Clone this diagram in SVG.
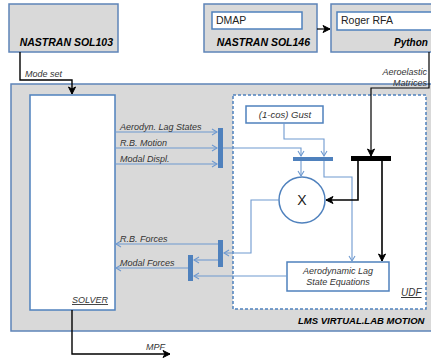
<svg xmlns="http://www.w3.org/2000/svg" width="431" height="358" viewBox="0 0 431 358">
<defs>
<style>
.box{fill:#d9d9d9;stroke:#5e84b8;stroke-width:1.5}
.wbox{fill:#fff;stroke:#4f81bd;stroke-width:1.5}
.dash{fill:#fff;stroke:#4f81bd;stroke-width:1.5;stroke-dasharray:3,2}
.bl{fill:none;stroke:#6f9ad0;stroke-width:1.1}
.bk{fill:none;stroke:#000;stroke-width:1.6}
.bar{fill:#4f81bd}
.kbar{fill:#000}
.t{font-family:"Liberation Sans",Arial,sans-serif;font-style:italic;font-size:9px;fill:#333}
.h{font-family:"Liberation Sans",Arial,sans-serif;font-style:italic;font-weight:bold;font-size:10.5px;fill:#000}
.n{font-family:"Liberation Sans",Arial,sans-serif;font-size:10.5px;fill:#222}
</style>
<marker id="ab" markerWidth="8" markerHeight="8" refX="6" refY="4" orient="auto" markerUnits="userSpaceOnUse">
<path d="M1,1 L6,4 L1,7" fill="none" stroke="#6f9ad0" stroke-width="1.1"/>
</marker>
<marker id="ak" markerWidth="10" markerHeight="10" refX="8" refY="5" orient="auto" markerUnits="userSpaceOnUse">
<path d="M1,1.5 L8,5 L1,8.5 L3,5 Z" fill="#000" stroke="#000" stroke-width="1"/>
</marker>
</defs>

<g id="sol103">
<rect class="box" x="9" y="4" width="109" height="48"/>
<text class="h" x="113" y="46" text-anchor="end">NASTRAN SOL103</text>
</g>
<g id="sol146">
<rect class="box" x="204" y="4" width="113" height="48"/>
<rect class="wbox" x="212" y="12" width="90" height="17"/>
<text class="n" x="216" y="24">DMAP</text>
<text class="h" x="310" y="46" text-anchor="end">NASTRAN SOL146</text>
</g>
<g id="python">
<rect class="box" x="331" y="4" width="120" height="48"/>
<rect class="wbox" x="337" y="12" width="110" height="18"/>
<text class="n" x="341" y="24">Roger RFA</text>
<text class="h" x="394" y="46" style="font-size:10px">Python</text>
</g>
<g id="lms">
<rect class="box" x="11" y="84" width="440" height="247"/>
<text class="h" x="298" y="324" style="font-size:9.5px">LMS VIRTUAL.LAB MOTION</text>
</g>
<g id="udf">
<rect class="dash" x="233" y="95" width="193" height="214"/>
<text class="t" x="401" y="296" text-decoration="underline" style="font-size:10px">UDF</text>
</g>
<g id="solver">
<rect class="wbox" x="30" y="95" width="85" height="215"/>
<text class="t" x="72" y="303" text-decoration="underline">SOLVER</text>
</g>
<g id="gust">
<rect class="wbox" x="246" y="106" width="77" height="17"/>
<text class="t" x="285" y="118" text-anchor="middle" style="font-size:9.5px">(1-cos) Gust</text>
</g>
<g id="multiply">
<circle cx="302" cy="200" r="23" fill="#fff" stroke="#4f81bd" stroke-width="1.5"/>
<text class="n" x="302" y="205" text-anchor="middle" style="font-size:14px">X</text>
</g>
<g id="aerolag">
<rect class="wbox" x="287" y="262" width="102" height="29"/>
<text class="t" x="338" y="274" text-anchor="middle">Aerodynamic Lag</text>
<text class="t" x="338" y="285" text-anchor="middle">State Equations</text>
</g>
<g id="bars">
<rect class="bar" x="218" y="128" width="5" height="40"/>
<rect class="bar" x="293" y="157" width="40" height="4"/>
<rect class="kbar" x="351" y="156" width="40" height="5"/>
<rect class="bar" x="218" y="240" width="5" height="27"/>
<rect class="bar" x="188" y="255" width="5" height="26"/>
</g>

<g id="connectors">
<path class="bk" d="M20,52 V80 H72 V94" marker-end="url(#ak)" style="stroke-width:1.4"/>
<path class="bk" d="M317,29 H330" marker-end="url(#ak)" style="stroke-width:1.2"/>
<path class="bk" d="M429,52 V88 H371 V156" marker-end="url(#ak)" style="stroke-width:1.2"/>
<path class="bk" d="M72,310 V354 H170" marker-end="url(#ak)" style="stroke-width:1.4"/>
<path class="bl" d="M115,132 H217" marker-end="url(#ab)"/>
<path class="bl" d="M115,148 H217" marker-end="url(#ab)"/>
<path class="bl" d="M115,164 H217" marker-end="url(#ab)"/>
<path class="bl" d="M223,148 H301 V156" marker-end="url(#ab)"/>
<path class="bl" d="M284,123 V139 H324 V156" marker-end="url(#ab)"/>
<path class="bl" d="M301,161 V176" marker-end="url(#ab)"/>
<path class="bl" d="M324,161 V177 H352 V261" marker-end="url(#ab)"/>
<path class="bk" d="M358,161 V200 H326" marker-end="url(#ak)"/>
<path class="bk" d="M382,161 V261" marker-end="url(#ak)"/>
<path class="bl" d="M279,200 H251 V253 H224" marker-end="url(#ab)"/>
<path class="bl" d="M287,276 H194" marker-end="url(#ab)"/>
<path class="bl" d="M218,260 H194" marker-end="url(#ab)"/>
<path class="bl" d="M218,244 H116" marker-end="url(#ab)"/>
<path class="bl" d="M188,268 H116" marker-end="url(#ab)"/>
</g>

<g id="labels">
<text class="t" x="25" y="77">Mode set</text>
<text class="t" x="427" y="75" text-anchor="end">Aeroelastic</text>
<text class="t" x="427" y="86" text-anchor="end">Matrices</text>
<text class="t" x="120" y="130">Aerodyn. Lag States</text>
<text class="t" x="120" y="146">R.B. Motion</text>
<text class="t" x="120" y="162">Modal Displ.</text>
<text class="t" x="120" y="242">R.B. Forces</text>
<text class="t" x="120" y="266">Modal Forces</text>
<text class="t" x="146" y="350">MPF</text>
</g>
</svg>
